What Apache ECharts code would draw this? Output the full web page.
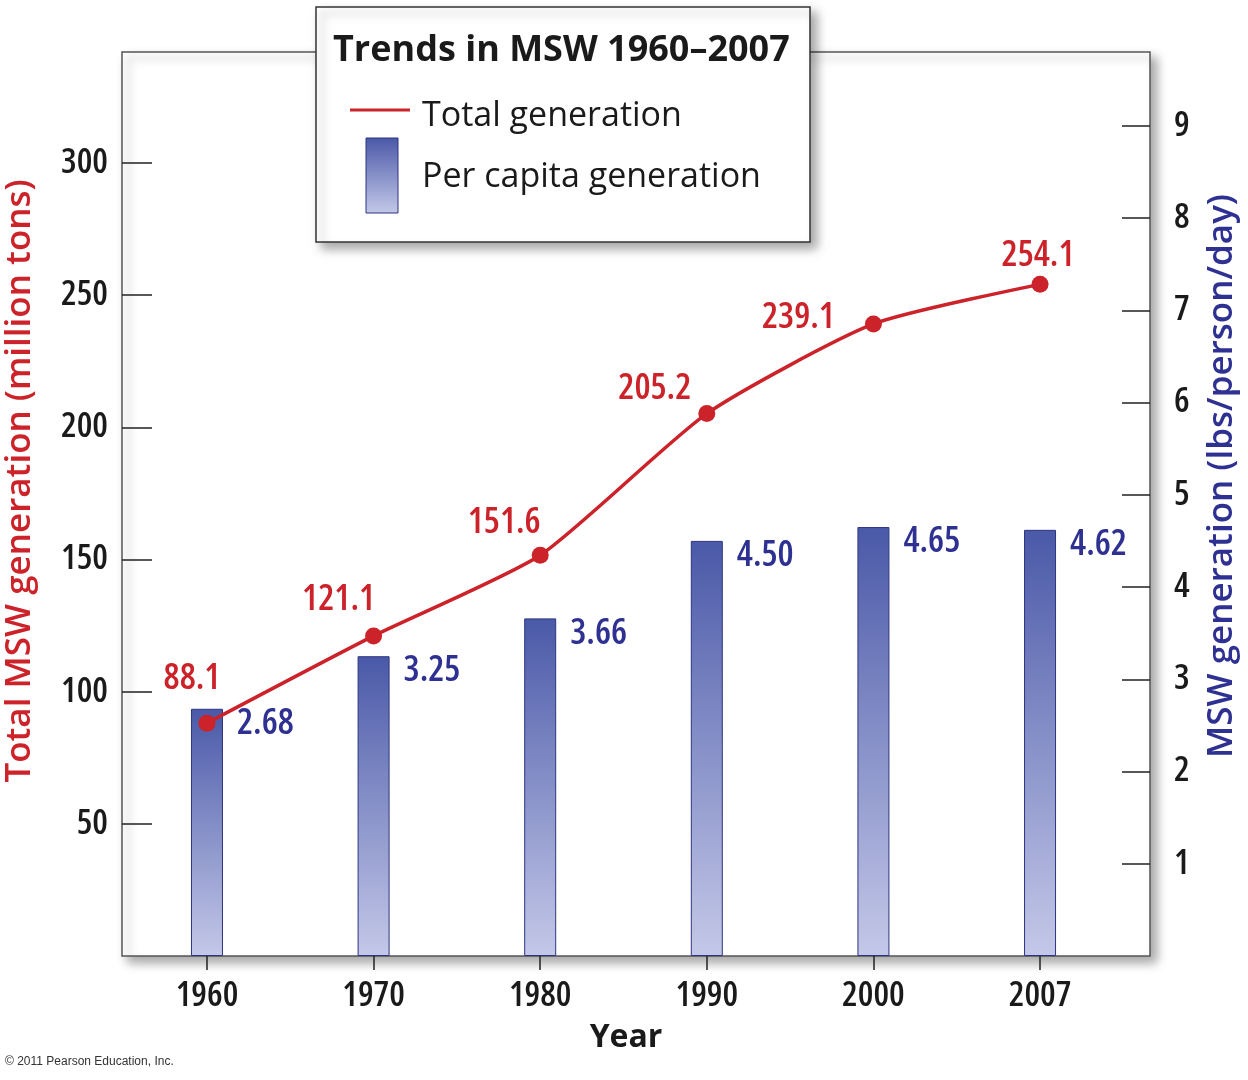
<!DOCTYPE html>
<html>
<head>
<meta charset="utf-8">
<script src="https://cdn.jsdelivr.net/npm/echarts@6/dist/echarts.min.js"></script>
<style>html,body{margin:0;padding:0;background:#fff}#c{width:1248px;height:1080px}</style>
</head>
<body>
<div id="c"></div>
<script>
// ---- data ----
var categories = ['1960', '1970', '1980', '1990', '2000', '2007'];
var totalGeneration = [88.1, 121.1, 151.6, 205.2, 239.1, 254.1];      // million tons
var perCapita = [2.68, 3.25, 3.66, 4.50, 4.65, 4.62];                 // lbs/person/day
var leftTicks = [50, 100, 150, 200, 250, 300];
var rightTicks = [1, 2, 3, 4, 5, 6, 7, 8, 9];

// label offsets (style only)
var redLabelOffsets = [[-15, -44], [-35, -36], [-36, -33], [-52, -25], [-75, -6], [-2, -29]];

var NUM_FONT = '"Open Sans", "Noto Sans", sans-serif';
var TXT_FONT = '"Open Sans", "Noto Sans", "DejaVu Sans", sans-serif';
var RED = '#cc2229';
var BLUE = '#2e3192';

var idx = categories.map(function (_, i) { return i; });

var lineData = totalGeneration.map(function (v, i) {
  return { value: [i, v], label: { offset: redLabelOffsets[i] } };
});
var barData = perCapita.map(function (v, i) { return [i, v]; });

var chart = echarts.init(document.getElementById('c'), null, { renderer: 'canvas' });

chart.setOption({
  backgroundColor: '#fff',
  animation: false,
  grid: {
    left: 122, top: 52, width: 1028, height: 904,
    containLabel: false, outerBoundsMode: 'none',
    show: true, backgroundColor: '#fff',
    borderColor: '#555', borderWidth: 1.5,
    shadowColor: 'rgba(0,0,0,0.35)', shadowBlur: 10, shadowOffsetX: 6, shadowOffsetY: 6
  },
  xAxis: {
    type: 'value',
    min: -0.51, max: 5.66,
    name: 'Year', nameLocation: 'middle', nameGap: 66,
    nameTextStyle: { fontFamily: TXT_FONT, fontWeight: 'bold', fontSize: 32, color: '#1a1a1a', padding: [0, 20, 0, 0] },
    axisLine: { show: false, onZero: false },
    splitLine: { show: false },
    axisTick: { show: true, inside: false, length: 14, customValues: idx, lineStyle: { color: '#222', width: 1.5 } },
    axisLabel: {
      customValues: idx, margin: 23,
      fontFamily: NUM_FONT, fontWeight: '600 condensed', fontSize: 35, color: '#1a1a1a',
      formatter: function (v) { return categories[Math.round(v)]; }
    }
  },
  yAxis: [{
    type: 'value', position: 'left',
    min: 0, max: 342,
    name: 'Total MSW generation (million tons)', nameLocation: 'middle', nameRotate: 90, nameGap: 84,
    nameTextStyle: { fontFamily: TXT_FONT, fontWeight: 600, fontSize: 35, color: RED, padding: [0, 0, 0, 46] },
    axisLine: { show: false, onZero: false },
    splitLine: { show: false },
    axisTick: { show: true, inside: true, length: 30, customValues: leftTicks, lineStyle: { color: '#222', width: 1.5 } },
    axisLabel: { customValues: leftTicks, margin: 14, fontFamily: NUM_FONT, fontWeight: '600 condensed', fontSize: 35, color: '#1a1a1a' }
  }, {
    type: 'value', position: 'right',
    min: 0, max: 9.8,
    name: 'MSW generation (lbs/person/day)', nameLocation: 'middle', nameRotate: 90, nameGap: 55,
    nameTextStyle: { fontFamily: TXT_FONT, fontWeight: 600, fontSize: 35, color: BLUE, padding: [0, 0, 0, 56] },
    axisLine: { show: false, onZero: false },
    splitLine: { show: false },
    axisTick: { show: true, inside: true, length: 28, customValues: rightTicks, lineStyle: { color: '#222', width: 1.5 } },
    axisLabel: { customValues: rightTicks, margin: 24, fontFamily: NUM_FONT, fontWeight: '600 condensed', fontSize: 35, color: '#1a1a1a' }
  }],
  series: [{
    type: 'bar',
    name: 'Per capita generation',
    yAxisIndex: 1,
    barWidth: 32,
    data: barData,
    itemStyle: {
      color: new echarts.graphic.LinearGradient(0, 0, 0, 1, [
        { offset: 0, color: '#4a59a8' },
        { offset: 1, color: '#c4c8e8' }
      ]),
      borderColor: '#2e3580', borderWidth: 1
    },
    label: {
      show: true, position: [46, 15], align: 'left', verticalAlign: 'middle',
      fontFamily: NUM_FONT, fontWeight: '600 condensed', fontSize: 36, color: BLUE,
      formatter: function (p) { return p.value[1].toFixed(2); }
    },
    z: 2
  }, {
    type: 'line',
    name: 'Total generation',
    yAxisIndex: 0,
    data: lineData,
    smooth: 0.2,
    symbol: 'circle', symbolSize: 17,
    lineStyle: { color: RED, width: 3.5 },
    itemStyle: { color: RED },
    label: {
      show: true, position: 'inside', align: 'center', verticalAlign: 'middle',
      fontFamily: NUM_FONT, fontWeight: '600 condensed', fontSize: 36, color: RED,
      formatter: function (p) { return p.value[1].toFixed(1); }
    },
    z: 3
  }],
  graphic: [{
    type: 'rect', z: 100,
    shape: { x: 316, y: 7, width: 494, height: 235 },
    style: { fill: '#fff', stroke: '#333', lineWidth: 1.5, shadowColor: 'rgba(0,0,0,0.35)', shadowBlur: 10, shadowOffsetX: 6, shadowOffsetY: 6 }
  }, {
    type: 'text', z: 101, left: 333, top: 33,
    style: { text: 'Trends in MSW 1960\u20132007', font: 'bold 36px ' + TXT_FONT, fill: '#1a1a1a' }
  }, {
    type: 'line', z: 101,
    shape: { x1: 350, y1: 110, x2: 410, y2: 110 },
    style: { stroke: RED, lineWidth: 3 }
  }, {
    type: 'text', z: 101, left: 422, top: 99,
    style: { text: 'Total generation', font: '34px ' + TXT_FONT, fill: '#1a1a1a' }
  }, {
    type: 'rect', z: 101,
    shape: { x: 366, y: 138, width: 32, height: 75 },
    style: {
      fill: new echarts.graphic.LinearGradient(0, 0, 0, 1, [
        { offset: 0, color: '#4a59a8' },
        { offset: 1, color: '#c4c8e8' }
      ]),
      stroke: '#2e3580', lineWidth: 1
    }
  }, {
    type: 'text', z: 101, left: 422, top: 160,
    style: { text: 'Per capita generation', font: '34px ' + TXT_FONT, fill: '#1a1a1a' }
  }, {
    type: 'text', z: 101, left: 5, top: 1056,
    style: { text: '\u00a9 2011 Pearson Education, Inc.', font: '12px "Liberation Sans", Arial, sans-serif', fill: '#333' }
  }]
});
</script>
</body>
</html>
